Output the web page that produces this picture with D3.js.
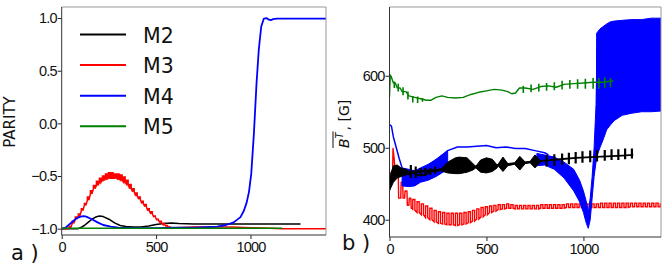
<!DOCTYPE html>
<html>
<head>
<meta charset="utf-8">
<script src="https://cdn.jsdelivr.net/npm/d3@7"></script>
<style>
  body { margin: 0; background: #fff; }
  svg { display: block; font-family: "DejaVu Sans", sans-serif; }
  .tick text { font-size: 14.5px; letter-spacing: -0.8px; fill: #111; }
  .tick line { stroke: #222; }
</style>
</head>
<body>
<svg id="chart" width="664" height="264"></svg>
<script>
// ---- data ----
let seriesNames = ["M2", "M3", "M4", "M5"];
let seriesColors = ["#000000", "#ff0000", "#0000ff", "#008000"];
let xTicks = [0, 500, 1000];
let parityTicks = [-1, -0.5, 0, 0.5, 1];
let btTicks = [400, 500, 600];

// panel a) PARITY
let parityM2 = [[0,-1],[85,-1],[100,-0.99],[120,-0.97],[140,-0.94],[160,-0.91],[180,-0.89],[200,-0.88],
    [220,-0.885],[250,-0.91],[280,-0.945],[310,-0.97],[340,-0.98],[380,-0.985],[420,-0.985],[460,-0.975],
    [500,-0.96],[540,-0.95],[580,-0.945],[620,-0.95],[700,-0.955],[800,-0.955],[1000,-0.955],[1265,-0.955]];
// [x, low, high] of each step of the oscillation
let parityM3Wave = [[0,-1,-1],[24,-1,-0.995],[40,-0.99,-0.98],[56,-0.95,-0.93],[72,-0.91,-0.89],[88,-0.88,-0.86],
    [104,-0.83,-0.81],[120,-0.78,-0.76],[136,-0.73,-0.70],[152,-0.67,-0.64],[168,-0.62,-0.59],[184,-0.59,-0.55],
    [200,-0.56,-0.52],[216,-0.54,-0.50],[232,-0.53,-0.48],[248,-0.52,-0.47],[264,-0.52,-0.47],[280,-0.52,-0.48],
    [296,-0.53,-0.48],[312,-0.54,-0.49],[328,-0.56,-0.51],[344,-0.58,-0.54],[360,-0.62,-0.58],[376,-0.65,-0.62],
    [392,-0.69,-0.66],[408,-0.72,-0.70],[424,-0.76,-0.74],[440,-0.79,-0.77],[456,-0.83,-0.81],[472,-0.86,-0.84],
    [488,-0.89,-0.88],[504,-0.92,-0.91],[520,-0.94,-0.93],[536,-0.96,-0.95],[552,-0.975,-0.97],[568,-0.99,-0.985],
    [584,-0.995,-0.99]];
let parityM3Tail = [[584,-0.995],[600,-0.99],[700,-0.985],[800,-0.985],[900,-0.985],[1000,-0.99],[1100,-0.995],
    [1170,-1],[1400,-1]];
let parityM4 = [[0,-1],[20,-0.99],[40,-0.96],[60,-0.93],[80,-0.9],[100,-0.885],[115,-0.88],[130,-0.885],
    [160,-0.91],[190,-0.94],[220,-0.965],[260,-0.98],[300,-0.99],[400,-0.995],[500,-0.995],[600,-0.99],
    [700,-0.99],[823,-0.98],[870,-0.965],[911,-0.94],[947,-0.89],[965,-0.83],[980,-0.75],[992,-0.65],
    [1004,-0.48],[1018,-0.1],[1032,0.38],[1044,0.70],[1057,0.92],[1071,0.995],[1085,1.0],[1097,0.985],
    [1108,0.98],[1120,0.99],[1140,0.995],[1400,0.995]];
let parityM5 = [[0,-0.996],[400,-0.996],[800,-0.996],[1168,-0.996]];

// panel b) mean B^T [G]
let btM3Start = [[0,462],[8,466],[16,466],[18,499],[24,485],[28,469],[45,469],[47,430],[58,430],[60,452],
    [68,452],[70,430],[78,430],[80,440],[90,440],[92,420],[100,420],[102,430],[110,430],[112,416],[120,416]];
let btM3Wave = [[120,413,428],[142,410,425],[164,407,422],[186,403,419],[208,400,416],[230,397,413],
    [252,395,411],[274,394,410],[296,393,409],[318,393,409],[340,392,409],[362,393,409],[384,394,410],
    [406,396,411],[428,398,413],[450,401,415],[472,404,417],[494,407,418],[516,410,419],[538,412,420],
    [560,414,421],[582,415,421],[604,416,422],[626,416,421],[648,415,420],[670,415,420],[692,415,420],
    [714,415,420],[736,415,420],[758,415,420],[780,416,421],[802,416,421],[824,416,421],[846,416,421],
    [868,416,421],[890,416,421],[912,417,422],[934,417,422],[956,417,422],[978,417,422],[1000,417,422],
    [1022,417,422],[1044,417,422],[1066,417,422],[1088,417,423],[1110,417,423],[1132,417,423],[1154,417,423],
    [1176,417,423],[1198,417,423],[1220,417,423],[1242,418,423],[1264,418,423],[1286,418,423],[1308,418,423],
    [1330,418,423],[1352,418,423],[1374,418,423],[1396,418,423]];
let btM4Line = [[0,532],[10,530],[20,515],[35,500],[50,485],[65,472]];
let btM4BandA = [[65,447,472],[100,446,470],[130,447,468],[160,452,472],[200,455,477],[240,460,484],
    [270,465,490],[300,470,495]];
let btM4Top = [[260,487],[300,496],[350,501],[400,501],[450,502],[500,503],[550,500],[600,501],[650,499],
    [700,499],[750,496],[800,493],[820,490]];
let btM4BandB = [[760,475,492],[800,476,490],[850,470,487],[900,458,480],[950,440,470],[980,425,455],
    [1000,410,440],[1015,395,425],[1025,388,410],[1035,400,430],[1045,430,460],[1055,460,500],
    [1065,480,560],[1070,490,640]];
let btM4BandC = [[1068,487,659],[1085,500,665],[1100,510,668],[1120,525,672],[1140,532,675],[1160,538,676],
    [1200,545,677],[1250,548,678],[1300,550,678],[1350,550,680],[1400,551,680]];
let btM2Line = [[0,445],[5,455],[10,462],[20,455],[30,465],[40,470],[50,465],[60,468],[80,466],[100,463],
    [120,465],[150,462],[180,462],[200,465],[230,468],[260,470],[290,472],[330,474],[400,474],[480,474],
    [560,476],[640,478],[720,480],[800,482],[880,484],[960,486],[1040,487],[1120,488],[1200,489],[1257,490]];
let btM2Band = [[0,440,452],[8,445,465],[20,452,475],[40,458,476],[60,460,472],[85,462,470],[100,465,467],
    [265,468,470],[300,465,480],[340,464,486],[360,464,487],[400,466,486],[430,469,478],[445,472,474],
    [470,466,483],[500,465,486],[530,467,484],[555,472,476],[560,475,477],[585,467,487],[610,475,478],
    [645,477,479],[672,469,488],[700,478,480],[725,479,481],[750,472,490],[778,480,482]];
let btM2Spikes = [[110,458,476],[135,458,474],[160,460,472],[185,461,472],[210,462,472],[235,464,474],
    [810,474,490],[850,475,491],[890,476,492],[925,477,493],[960,478,494],[995,479,495],[1035,480,496],
    [1070,481,497],[1110,482,497],[1145,483,498],[1180,483,498],[1215,484,499],[1250,485,499]];
let btM5Line = [[0,571],[4,601],[10,598],[20,590],[30,590],[40,583],[55,583],[65,578],[85,578],[100,572],
    [130,570],[160,568],[190,566],[215,566],[240,570],[270,572],[300,570],[340,569],[380,570],[420,574],
    [460,577],[500,579],[540,581],[580,580],[610,578],[630,575],[650,576],[670,583],[700,583],[740,581],
    [780,585],[820,586],[860,584],[900,588],[950,589],[1000,590],[1050,591],[1100,591],[1154,593]];
let btM5Spikes = [[25,583,592],[45,578,589],[70,573,584],[95,567,578],[120,563,572],[145,562,571],
    [170,564,569],[690,576,586],[730,577,588],[770,578,589],[810,579,590],[850,580,591],[890,581,593],
    [930,582,594],[970,582,595],[1010,582,596],[1050,582,597],[1080,582,597],[1110,583,598],[1140,584,597]];

// ---- drawing ----
let svg = d3.select("#chart");

function wavePath(points, xScale, yScale) {
    // square oscillation: up at each step, down half way to the next one
    let path = d3.path();
    points.forEach((p, i) => {
        let x = xScale(p[0]);
        if (i === 0) path.moveTo(x, yScale(p[1])); else path.lineTo(x, yScale(p[1]));
        path.lineTo(x, yScale(p[2]));
        if (i < points.length - 1) {
            let mid = (x + xScale(points[i + 1][0])) / 2;
            path.lineTo(mid, yScale(p[2]));
            path.lineTo(mid, yScale(p[1]));
        }
    });
    return path.toString();
}

function makePanel(id, box, xDomain, yDomain, yTicks, yFormat) {
    let xScale = d3.scaleLinear().domain(xDomain).range([box.x0, box.x1]);
    let yScale = d3.scaleLinear().domain(yDomain).range([box.y1, box.y0]);

    svg.append("clipPath").attr("id", id + "-clip")
        .append("rect")
        .attr("x", box.x0).attr("y", box.y0)
        .attr("width", box.x1 - box.x0).attr("height", box.y1 - box.y0);

    let plot = svg.append("g").attr("clip-path", `url(#${id}-clip)`);

    let xAxis = svg.append("g")
        .attr("transform", `translate(0,${box.y1})`)
        .call(d3.axisBottom(xScale).tickValues(xTicks).tickSize(4).tickPadding(3).tickFormat(d3.format("d")));
    xAxis.select(".domain").remove();

    let yAxis = svg.append("g")
        .attr("transform", `translate(${box.x0},0)`)
        .call(d3.axisLeft(yScale).tickValues(yTicks).tickSize(4).tickPadding(1).tickFormat(yFormat));
    yAxis.select(".domain").remove();

    return { plot: plot, x: xScale, y: yScale, box: box };
}

function drawSpines(panel) {
    let b = panel.box;
    let spines = [
        [b.x0, b.y0, b.x1, b.y0, "#999"],
        [b.x1, b.y0, b.x1, b.y1, "#999"],
        [b.x0, b.y0, b.x0, b.y1, "#333"],
        [b.x0, b.y1, b.x1, b.y1, "#333"]
    ];
    svg.append("g").selectAll("line").data(spines).enter()
        .append("line")
        .attr("x1", (d) => d[0]).attr("y1", (d) => d[1])
        .attr("x2", (d) => d[2]).attr("y2", (d) => d[3])
        .attr("stroke", (d) => d[4])
        .attr("stroke-width", 1);
}

function addLine(panel, data, color, width) {
    let line = d3.line().x((d) => panel.x(d[0])).y((d) => panel.y(d[1]));
    panel.plot.append("path").datum(data)
        .attr("d", line)
        .attr("fill", "none")
        .attr("stroke", color)
        .attr("stroke-width", width)
        .attr("stroke-linejoin", "round");
}

function addWave(panel, data, color, width) {
    panel.plot.append("path")
        .attr("d", wavePath(data, panel.x, panel.y))
        .attr("fill", "none")
        .attr("stroke", color)
        .attr("stroke-width", width);
}

function addBand(panel, data, color) {
    let area = d3.area()
        .x((d) => panel.x(d[0]))
        .y0((d) => panel.y(d[1]))
        .y1((d) => panel.y(d[2]));
    panel.plot.append("path").datum(data)
        .attr("d", area)
        .attr("fill", color)
        .attr("stroke", color)
        .attr("stroke-width", 1);
}

function addSpikes(panel, data, color, width) {
    panel.plot.append("g").selectAll("line").data(data).enter()
        .append("line")
        .attr("x1", (d) => panel.x(d[0])).attr("x2", (d) => panel.x(d[0]))
        .attr("y1", (d) => panel.y(d[1])).attr("y2", (d) => panel.y(d[2]))
        .attr("stroke", color)
        .attr("stroke-width", width);
}

// panel a)
let left = makePanel("a", { x0: 61.7, x1: 326, y0: 7, y1: 235 }, [0, 1400], [-1.06, 1.105],
    parityTicks, d3.format(".1f"));
addLine(left, parityM2, seriesColors[0], 1.5);
addWave(left, parityM3Wave, seriesColors[1], 1.5);
addLine(left, parityM3Tail, seriesColors[1], 1.5);
addLine(left, parityM4, seriesColors[2], 1.8);
addLine(left, parityM5, seriesColors[3], 1.5);
drawSpines(left);

// panel b)
let right = makePanel("b", { x0: 389.5, x1: 661, y0: 7, y1: 237 }, [0, 1400], [376, 695.5],
    btTicks, d3.format("d"));
addLine(right, btM3Start, seriesColors[1], 1.4);
addWave(right, btM3Wave, seriesColors[1], 1.4);
addLine(right, btM4Line, seriesColors[2], 1.5);
addBand(right, btM4BandA, seriesColors[2]);
addLine(right, btM4Top, seriesColors[2], 1.5);
addBand(right, btM4BandB, seriesColors[2]);
addBand(right, btM4BandC, seriesColors[2]);
addBand(right, btM2Band, seriesColors[0]);
addLine(right, btM2Line, seriesColors[0], 1.8);
addSpikes(right, btM2Spikes, seriesColors[0], 2.2);
addLine(right, btM5Line, seriesColors[3], 1.4);
addSpikes(right, btM5Spikes, seriesColors[3], 1.6);
drawSpines(right);

// legend
let legend = svg.append("g").selectAll("g").data(seriesNames).enter()
    .append("g")
    .attr("transform", (d, i) => `translate(0,${34.5 + i * 30.6})`);
legend.append("line")
    .attr("x1", 80).attr("x2", 126)
    .attr("stroke", (d, i) => seriesColors[i])
    .attr("stroke-width", 2);
legend.append("text")
    .attr("x", 143).attr("y", 8)
    .attr("font-size", 20.5)
    .attr("fill", "#111")
    .text((d) => d);

// axis titles and panel letters
svg.append("text")
    .attr("transform", "translate(15,122) rotate(-90)")
    .attr("text-anchor", "middle")
    .attr("font-size", 15)
    .attr("fill", "#111")
    .text("PARITY");

let bLabel = svg.append("g").attr("transform", "translate(349,148) rotate(-90)");
let bt = bLabel.append("text").attr("font-size", 14).attr("fill", "#111");
bt.append("tspan").attr("font-style", "italic").text("B");
bt.append("tspan").attr("font-style", "italic").attr("font-size", 10).attr("dy", -6).text("T");
let btBox = bt.node().getBBox();
bLabel.append("line")
    .attr("x1", btBox.x).attr("x2", btBox.x + btBox.width)
    .attr("y1", btBox.y - 1).attr("y2", btBox.y - 1)
    .attr("stroke", "#111").attr("stroke-width", 1);
bLabel.append("text")
    .attr("x", btBox.x + btBox.width + 1)
    .attr("font-size", 14).attr("fill", "#111")
    .text(", [G]");

svg.append("text").attr("x", 11).attr("y", 260).attr("font-size", 21).attr("fill", "#111").text("a )");
svg.append("text").attr("x", 342).attr("y", 250).attr("font-size", 21).attr("fill", "#111").text("b )");
</script>
</body>
</html>
